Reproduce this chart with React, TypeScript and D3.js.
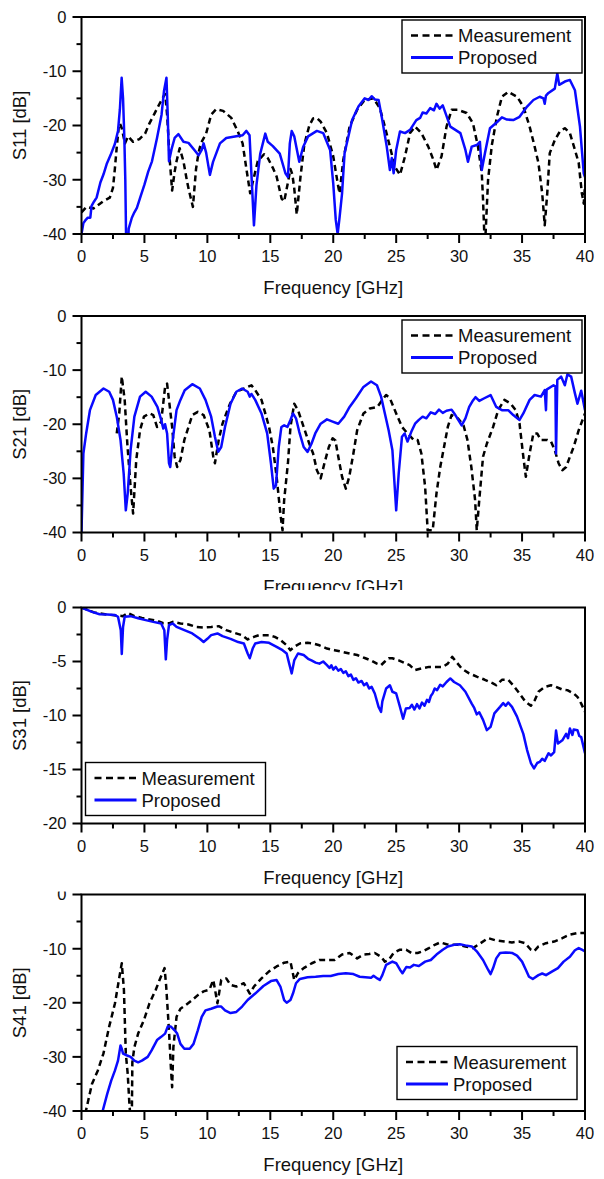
import React from "react";
import * as d3 from "d3";

type Pt = [number, number];

// ---------- data (frequency GHz, dB) ----------
const xTicks = [0, 5, 10, 15, 20, 25, 30, 35, 40];
const xMinorTicks = [2.5, 7.5, 12.5, 17.5, 22.5, 27.5, 32.5, 37.5];
const yTicks40 = [0, -10, -20, -30, -40];
const yMinor40 = [-5, -15, -25, -35];
const yTicks20 = [0, -5, -10, -15, -20];
const yMinor20 = [-2.5, -7.5, -12.5, -17.5];
const seriesNames = ["Measurement", "Proposed"];
const yLabels = ["S11 [dB]", "S21 [dB]", "S31 [dB]", "S41 [dB]"];
const xLabel = "Frequency [GHz]";

const s11Meas: Pt[] = [[0,-36],[0.4,-35],[0.95,-35.3],[1.7,-34],[2.25,-33.3],[2.5,-31.5],[2.65,-28],[2.8,-24],[2.95,-20.5],[3.05,-19.6],[3.2,-20.5],[3.45,-23.3],[3.7,-22],[4.1,-23],[4.6,-22.5],[5.05,-21.5],[5.4,-19.6],[5.8,-17.8],[6.2,-16],[6.5,-14.7],[6.65,-14.2],[6.8,-18],[7.0,-26],[7.2,-32],[7.4,-28.5],[7.55,-26.6],[7.8,-24.2],[8.1,-26.6],[8.4,-30.5],[8.6,-32.6],[8.85,-35],[9.1,-28],[9.3,-25],[9.5,-23.2],[9.9,-21.5],[10.3,-18],[10.7,-17],[11.25,-17.3],[11.9,-18.6],[12.4,-21],[12.8,-23.3],[13.1,-28],[13.4,-32.5],[13.6,-30.5],[14.0,-26.6],[14.5,-25.3],[14.8,-26],[15.2,-27.8],[15.5,-29.4],[15.9,-33.5],[16.1,-34],[16.4,-30.5],[16.6,-28],[16.75,-29],[16.9,-31.6],[17.1,-36.4],[17.4,-29.4],[17.7,-23.5],[18.1,-20],[18.4,-18.7],[18.7,-18.6],[19.0,-19.3],[19.5,-21.4],[20.0,-25.7],[20.4,-31.3],[20.5,-32.5],[20.8,-26.3],[21.3,-20.2],[21.9,-17.1],[22.5,-15.3],[23.2,-15],[23.7,-16.8],[24.1,-20.2],[24.5,-23.9],[24.9,-27.6],[25.3,-29.1],[25.7,-25.7],[26.1,-21.4],[26.5,-20.2],[27.0,-21.4],[27.55,-23.9],[27.95,-26.3],[28.2,-28.2],[28.6,-25.7],[29.0,-20.2],[29.4,-17.1],[29.9,-17.1],[30.6,-17.7],[31.1,-19.6],[31.5,-23.9],[31.8,-28.8],[31.9,-33.7],[32.0,-40],[32.1,-40],[32.3,-30],[32.6,-23.6],[33.0,-18.4],[33.4,-14.7],[33.9,-13.8],[34.6,-14.7],[35.1,-16.5],[35.6,-20.2],[36.0,-23.9],[36.3,-26.9],[36.6,-32.5],[36.8,-38.4],[37.0,-32.5],[37.2,-25.1],[37.6,-22.7],[38.0,-21.1],[38.4,-20.5],[38.8,-21.4],[39.2,-24.5],[39.5,-26.9],[39.75,-32.5],[39.9,-34.4],[40,-31]];

const s11Prop: Pt[] = [[0,-40],[0.15,-38],[0.3,-37.5],[0.5,-37],[0.7,-37],[0.8,-34.8],[1.0,-34],[1.2,-33.3],[1.5,-30.5],[1.75,-29],[2.0,-27.1],[2.3,-25.5],[2.65,-23.4],[2.9,-21],[3.05,-17],[3.19,-11.2],[3.3,-15],[3.4,-22],[3.48,-30],[3.55,-42],[3.7,-42],[3.75,-39],[4.0,-37],[4.2,-36],[4.4,-35.2],[4.7,-33],[5.0,-30.9],[5.3,-28.5],[5.6,-26.6],[6.0,-22.3],[6.36,-18],[6.55,-13.7],[6.75,-11.2],[6.85,-18],[6.95,-26.6],[7.15,-24.4],[7.4,-22.3],[7.7,-21.6],[8.1,-23],[8.5,-23.2],[9.0,-24.6],[9.3,-25.5],[9.55,-24.5],[9.7,-23.3],[9.9,-25],[10.2,-29.1],[10.45,-26.7],[11.0,-23.3],[11.5,-22.3],[12.3,-22],[12.8,-21.8],[13.1,-21],[13.35,-21.8],[13.5,-29],[13.7,-38.4],[13.9,-31],[14.2,-25.2],[14.6,-21.5],[14.8,-23],[15.2,-23.8],[15.75,-25.2],[16.2,-28.8],[16.4,-29.5],[16.55,-23.3],[16.7,-21],[16.9,-22],[17.3,-26.7],[17.6,-24],[18.0,-22],[18.7,-21],[19.2,-21.4],[19.75,-24.5],[20.0,-30.7],[20.2,-37.4],[20.35,-40],[20.5,-37],[20.7,-32.5],[20.9,-25.1],[21.5,-19],[22.0,-16.5],[22.5,-15],[22.8,-15.3],[23.05,-14.6],[23.3,-15.2],[23.6,-15.3],[23.85,-18.4],[24.25,-23.9],[24.5,-28.2],[24.65,-26],[24.8,-28.8],[25.0,-24.5],[25.3,-21.1],[25.7,-21.4],[26.1,-20.8],[26.6,-19],[26.9,-18.6],[27.1,-17.6],[27.4,-17.8],[27.7,-16.8],[28.0,-17.2],[28.2,-16.0],[28.45,-16.9],[28.7,-16.3],[29.3,-20.2],[30.1,-21.4],[30.5,-24.5],[30.7,-26.7],[31.0,-23.9],[31.4,-23.6],[31.65,-23],[31.8,-28.2],[32.05,-25.1],[32.45,-20.5],[33.0,-19.4],[33.4,-18.5],[33.8,-18.9],[34.3,-19],[34.8,-18.4],[35.4,-16.5],[35.9,-15.3],[36.4,-14.7],[36.7,-15],[36.8,-16],[36.9,-14.5],[37.1,-14],[37.6,-13.2],[37.8,-10.4],[37.95,-12.5],[38.4,-11.9],[38.8,-11.6],[39.2,-13.5],[39.6,-20.2],[39.9,-28.8],[40,-29.5]];

const s21Meas: Pt[] = [[2.8,-21.7],[3.0,-18],[3.2,-11.2],[3.43,-15.5],[3.64,-23.6],[3.9,-31.6],[4.1,-36.5],[4.35,-26.6],[4.65,-21.1],[4.96,-18.6],[5.4,-18],[5.7,-18.3],[6.0,-20.5],[6.33,-19.5],[6.64,-13.1],[6.8,-12.5],[6.95,-15.5],[7.2,-20.5],[7.4,-26],[7.6,-27.9],[7.86,-26.6],[8.17,-22.9],[8.5,-20.5],[8.8,-18.3],[9.24,-17.7],[9.7,-18.3],[10.16,-21.1],[10.47,-26],[10.6,-27.2],[10.9,-22.9],[11.2,-19.9],[11.5,-18],[11.8,-16.2],[12.3,-14],[12.9,-13.4],[13.5,-12.8],[13.8,-13.7],[14.3,-15.5],[14.6,-18],[14.9,-20.5],[15.2,-24.2],[15.5,-29.7],[15.8,-36.5],[15.97,-39.6],[16.1,-34],[16.4,-27.2],[16.6,-20.5],[16.9,-16.2],[17.2,-17.4],[17.65,-20.5],[18.1,-23.6],[18.4,-25.4],[18.7,-28.5],[19.0,-30],[19.3,-27.2],[19.65,-24.2],[19.95,-22.6],[20.17,-23],[20.4,-26],[20.7,-29.7],[21.0,-31.9],[21.27,-29.7],[21.6,-25.4],[21.9,-21.1],[22.4,-18],[22.9,-17.1],[23.5,-16.8],[23.9,-15.5],[24.2,-14.6],[24.5,-15.2],[25.0,-18],[25.46,-20.5],[25.9,-21.7],[26.4,-22.9],[26.7,-22.9],[27.0,-25.4],[27.3,-31.6],[27.5,-39.6],[27.9,-39.6],[28.2,-32.8],[28.5,-27.9],[28.8,-24.2],[29.1,-20.5],[29.4,-18.3],[29.9,-18.9],[30.35,-20.2],[30.66,-22.9],[30.97,-27.9],[31.27,-34],[31.4,-39.6],[31.6,-34],[31.9,-26],[32.2,-23.6],[32.7,-20.5],[33.1,-17.4],[33.6,-15.5],[34.1,-16.2],[34.5,-17.4],[34.8,-19.9],[35.1,-26],[35.3,-29.7],[35.6,-25.4],[35.9,-21.7],[36.2,-21.7],[36.5,-22.9],[37.0,-22.9],[37.3,-23.2],[37.6,-24.8],[37.9,-27.2],[38.2,-28.5],[38.5,-27.9],[38.8,-26],[39.1,-24.2],[39.5,-21.1],[40,-18]];

const s21Prop: Pt[] = [[0,-40],[0.15,-25.4],[0.37,-21.7],[0.67,-17.4],[1.13,-14.6],[1.75,-13.4],[2.2,-14],[2.5,-15.5],[2.8,-18.6],[3.1,-22.9],[3.35,-29.1],[3.52,-35.9],[3.67,-32.8],[3.9,-24.8],[4.2,-18.6],[4.65,-14.9],[5.1,-14],[5.57,-14.9],[6.03,-16.8],[6.33,-19.2],[6.5,-20.8],[6.64,-20],[6.8,-21.7],[6.95,-27.2],[7.05,-27.9],[7.25,-22.9],[7.55,-17.4],[7.86,-15.5],[8.2,-13.7],[8.8,-12.6],[9.4,-13.4],[9.85,-15.5],[10.3,-18.6],[10.6,-22.3],[10.86,-25.1],[11.1,-24.2],[11.4,-20.5],[11.84,-16.2],[12.3,-14],[12.76,-13.4],[13.2,-14],[13.37,-14.9],[13.5,-14.4],[13.8,-15.5],[14.3,-18],[14.75,-21.7],[15.05,-27.2],[15.27,-31.9],[15.45,-31.3],[15.67,-24.2],[15.88,-20.5],[16.1,-20.2],[16.36,-20.5],[16.6,-19.2],[16.8,-18],[17.04,-18.9],[17.3,-21.4],[17.65,-24.2],[17.96,-25.1],[18.27,-23.6],[18.57,-21.7],[19.0,-19.9],[19.5,-19.1],[19.95,-19.5],[20.4,-19.9],[20.87,-18.6],[21.3,-16.8],[21.8,-15.2],[22.4,-13.1],[23.0,-12.1],[23.47,-12.8],[23.8,-14.9],[24.1,-18],[24.4,-21.1],[24.7,-24.8],[25.0,-35.9],[25.2,-29.1],[25.46,-22.3],[25.67,-21.7],[25.9,-23.2],[26.2,-21.4],[26.5,-19.9],[26.8,-19.2],[27.1,-18.6],[27.4,-18.9],[27.75,-17.8],[28.1,-18.1],[28.4,-17.3],[28.7,-17.9],[29.0,-17.5],[29.4,-17.3],[29.7,-18.3],[30.2,-20.2],[30.5,-18.9],[30.8,-16.8],[31.1,-15.6],[31.3,-15.0],[31.6,-15.7],[32.0,-15.2],[32.5,-14.6],[32.95,-16.8],[33.4,-17.4],[33.9,-17.4],[34.3,-18.3],[34.8,-19.2],[35.1,-18],[35.6,-15.5],[36.0,-14.6],[36.5,-14.9],[36.8,-13.7],[36.9,-17.4],[36.95,-13.6],[37.5,-12.8],[37.65,-13],[37.7,-25.4],[37.8,-11.8],[38.1,-11.2],[38.4,-12.8],[38.6,-10.8],[38.9,-11.2],[39.2,-14.3],[39.4,-16.2],[39.7,-13.8],[40,-17.4]];

const s31Meas: Pt[] = [[0,0],[1,-0.45],[2,-0.65],[2.9,-0.75],[3.3,-0.8],[3.7,-0.5],[4.2,-0.8],[4.8,-0.96],[5.4,-1.1],[6.0,-1.23],[6.5,-1.45],[7.0,-1.45],[7.25,-1.33],[7.86,-1.48],[8.5,-1.57],[9.1,-1.8],[9.7,-1.85],[10.3,-1.8],[10.9,-1.73],[11.5,-2.1],[12.15,-2.35],[12.76,-2.56],[13.2,-2.96],[13.7,-2.72],[14.1,-2.56],[14.9,-2.56],[15.36,-2.72],[15.8,-3.0],[16.3,-3.5],[16.6,-3.95],[16.9,-3.64],[17.35,-3.33],[17.96,-3.27],[18.4,-3.33],[18.9,-3.5],[19.5,-3.8],[20.1,-3.95],[20.7,-4.1],[21.3,-4.26],[21.9,-4.4],[22.55,-4.7],[23.0,-4.9],[23.47,-5.2],[23.8,-5.34],[24.1,-5.0],[24.4,-4.7],[24.7,-4.7],[25.2,-4.9],[25.6,-5.1],[26.07,-5.34],[26.5,-5.8],[27.0,-5.65],[27.6,-5.5],[28.06,-5.5],[28.7,-5.5],[29.1,-5.2],[29.45,-4.57],[29.75,-5.0],[30.2,-5.65],[30.8,-6.1],[31.4,-6.4],[32.0,-6.67],[32.65,-7.0],[32.95,-7.2],[33.4,-6.7],[33.9,-6.7],[34.3,-7.2],[34.8,-7.96],[35.25,-8.7],[35.7,-9.1],[36.0,-8.6],[36.3,-7.8],[36.8,-7.35],[37.3,-7.2],[37.7,-7.35],[38.2,-7.6],[38.6,-7.65],[39.1,-7.96],[39.4,-8.27],[39.7,-8.9],[40,-9.66]];

const s31Prop: Pt[] = [[0,0],[0.83,-0.4],[1.44,-0.62],[2.05,-0.65],[2.66,-0.7],[2.9,-0.86],[3.12,-2.1],[3.2,-4.3],[3.3,-1.8],[3.43,-0.86],[3.9,-0.8],[4.5,-1.0],[5.1,-1.17],[5.7,-1.33],[6.33,-1.48],[6.58,-2.1],[6.7,-4.8],[6.8,-3],[6.95,-1.64],[7.25,-1.48],[7.55,-1.8],[8.17,-2.1],[8.8,-2.4],[9.4,-2.9],[9.7,-3.2],[10.0,-2.9],[10.3,-2.56],[10.8,-2.4],[11.2,-2.65],[11.84,-2.9],[12.45,-3.2],[12.9,-3.33],[13.2,-4.26],[13.37,-4.7],[13.6,-3.8],[13.8,-3.33],[14.3,-3.2],[14.9,-3.27],[15.5,-3.64],[15.97,-3.95],[16.3,-4.26],[16.5,-5.2],[16.7,-6.1],[16.9,-4.9],[17.2,-4.26],[17.65,-4.4],[18.0,-4.75],[18.27,-4.9],[18.6,-5.1],[18.9,-5.2],[19.2,-5.0],[19.5,-5.34],[19.7,-5.6],[19.85,-5.35],[20.0,-5.75],[20.2,-5.5],[20.4,-5.85],[20.6,-5.7],[20.8,-6.05],[21.0,-5.9],[21.2,-6.35],[21.4,-6.2],[21.6,-6.7],[21.8,-6.55],[22.0,-6.95],[22.25,-6.8],[22.45,-7.2],[22.65,-7.0],[22.85,-7.5],[23.05,-7.35],[23.3,-7.96],[23.6,-9.2],[23.8,-9.66],[23.9,-8.7],[24.2,-7.5],[24.5,-7.2],[24.7,-7.8],[25.0,-7.96],[25.3,-9.2],[25.55,-10.3],[25.77,-9.35],[26.07,-9.3],[26.25,-9.0],[26.45,-9.45],[26.65,-8.95],[26.85,-9.35],[27.05,-8.8],[27.25,-9.1],[27.45,-8.55],[27.6,-8.75],[27.75,-8.2],[27.9,-7.95],[28.06,-7.5],[28.25,-7.65],[28.5,-7.15],[28.7,-7.3],[29.0,-6.9],[29.3,-6.57],[29.6,-6.9],[30.06,-7.2],[30.5,-7.8],[31.0,-8.9],[31.2,-9.3],[31.4,-9.9],[31.6,-9.7],[31.9,-10.4],[32.2,-11.36],[32.5,-11.05],[32.8,-9.8],[33.25,-9.2],[33.5,-8.85],[33.7,-9.1],[33.9,-8.8],[34.2,-9.2],[34.6,-10.1],[35.1,-11.7],[35.4,-13.2],[35.7,-14.4],[35.95,-14.9],[36.2,-14.4],[36.4,-14.3],[36.6,-14.0],[36.8,-14.2],[37.1,-13.5],[37.3,-13.7],[37.55,-13.4],[37.7,-11.4],[37.85,-12.6],[38.2,-12.3],[38.5,-11.7],[38.65,-12.1],[38.8,-11.2],[39.0,-11.8],[39.1,-11.3],[39.4,-11.36],[39.55,-11.9],[39.7,-12],[40,-13.5]];

const s41Meas: Pt[] = [[0.3,-40.5],[0.83,-35],[1.3,-32.5],[1.74,-29.4],[2.2,-24.4],[2.66,-20.1],[2.97,-15.8],[3.2,-12.7],[3.37,-17.6],[3.52,-29.4],[3.67,-33.1],[3.82,-39.3],[3.9,-41],[4.0,-41],[4.04,-31],[4.2,-28.2],[4.5,-25.7],[4.96,-23.2],[5.4,-20.1],[5.9,-17.6],[6.2,-15.8],[6.6,-13.6],[6.73,-17],[6.95,-25.1],[7.1,-31.9],[7.2,-35.6],[7.3,-28.2],[7.55,-22.6],[7.86,-21.1],[8.3,-20.4],[8.8,-19.5],[9.24,-18.6],[9.7,-17.9],[10.16,-17.6],[10.47,-15.8],[10.8,-20.1],[11.1,-15.8],[11.5,-15.5],[11.84,-16.7],[12.3,-17],[12.9,-16.4],[13.37,-18.3],[13.7,-17],[14.3,-15.5],[14.9,-14.2],[15.5,-13.3],[16.1,-12.6],[16.6,-12.4],[16.9,-15.8],[17.2,-14.5],[17.65,-13.6],[18.3,-12.7],[18.9,-12.1],[19.5,-12.1],[20.1,-12.1],[20.7,-11.1],[21.3,-10.8],[21.9,-11.8],[22.4,-11.1],[22.85,-11],[23.3,-10.8],[23.8,-11.5],[24.1,-12.4],[24.4,-12.1],[24.8,-10.8],[25.3,-10.2],[25.8,-10.2],[26.2,-10.8],[26.7,-10.8],[27.1,-10.5],[27.6,-9.9],[28.06,-9.3],[28.5,-8.85],[29.0,-9.2],[29.4,-9.3],[29.9,-9.3],[30.5,-9.6],[31.1,-9.9],[31.7,-9.0],[32.3,-8.05],[32.95,-8.5],[33.6,-8.7],[34.2,-8.85],[34.8,-8.7],[35.25,-9.0],[35.7,-10.2],[35.95,-10.5],[36.3,-9.6],[36.9,-9.0],[37.55,-8.7],[38.2,-8.05],[38.8,-7.4],[39.4,-7.1],[40,-7.1]];

const s41Prop: Pt[] = [[1.68,-40],[2.05,-36.8],[2.36,-34.4],[2.66,-32.5],[2.9,-30.7],[3.1,-27.9],[3.2,-28.5],[3.3,-29.4],[3.58,-29.7],[3.9,-30],[4.2,-30.7],[4.5,-31],[4.8,-30.7],[5.26,-30],[5.57,-28.8],[6.0,-26.9],[6.33,-26.3],[6.64,-25.7],[6.85,-24.4],[7.1,-24.4],[7.4,-25.1],[7.6,-25.7],[7.86,-27.6],[8.17,-28.5],[8.6,-28.5],[8.9,-27.6],[9.24,-25.1],[9.55,-22.6],[9.85,-21.4],[10.3,-21.1],[10.8,-20.7],[11.1,-20.7],[11.4,-21.4],[11.84,-21.9],[12.3,-21.7],[12.76,-20.7],[13.2,-19.5],[13.8,-18.3],[14.45,-16.9],[15.05,-16],[15.5,-15.8],[15.8,-17],[16.1,-19.5],[16.3,-20],[16.6,-19.5],[16.8,-18.3],[17.04,-16.4],[17.35,-15.6],[17.96,-15.3],[18.6,-15.2],[19.2,-15.05],[19.8,-15.05],[20.4,-14.7],[21.0,-14.55],[21.6,-14.7],[22.1,-15.2],[22.55,-15.3],[23.0,-15.4],[23.2,-15.0],[23.5,-15.5],[23.7,-15.8],[23.9,-14.9],[24.2,-13],[24.7,-12.4],[25.0,-12.7],[25.3,-13.9],[25.5,-14.55],[25.8,-13.4],[26.1,-13.5],[26.4,-13.0],[26.8,-13.2],[27.3,-12.4],[27.75,-12.1],[28.2,-11.1],[28.7,-10.2],[29.1,-9.6],[29.6,-9.3],[30.06,-9.2],[30.5,-9.4],[31.0,-9.6],[31.4,-10.5],[31.9,-12.1],[32.3,-13.9],[32.5,-14.7],[32.7,-13.6],[32.95,-11.8],[33.25,-10.8],[33.7,-10.7],[34.2,-10.8],[34.6,-11.3],[35.0,-12.4],[35.3,-13.9],[35.55,-15.2],[35.85,-15.6],[36.3,-14.9],[36.6,-14.6],[36.9,-14.9],[37.4,-14.2],[37.85,-13.6],[38.3,-12.4],[38.8,-11.5],[39.2,-10.3],[39.5,-9.9],[39.75,-10.2],[40,-10.5]];

// ---------- layout ----------
const FONT = "'Liberation Sans', Arial, Helvetica, sans-serif";
const X0 = 81.5;
const X1 = 585;
const BLUE = "#0a0aff";

interface PanelCfg {
  top: number;
  bottom: number;
  yMin: number;
  yTicks: number[];
  yMinor: number[];
  meas: Pt[];
  prop: Pt[];
  label: string;
  legendX: number;
  legendY: number;
  clipY0: number;
  clipY1: number;
}

const panels: PanelCfg[] = [
  { top: 17, bottom: 234, yMin: -40, yTicks: yTicks40, yMinor: yMinor40, meas: s11Meas, prop: s11Prop, label: yLabels[0], legendX: 402, legendY: 20, clipY0: 0, clipY1: 300 },
  { top: 316, bottom: 532.5, yMin: -40, yTicks: yTicks40, yMinor: yMinor40, meas: s21Meas, prop: s21Prop, label: yLabels[1], legendX: 402, legendY: 320, clipY0: 300, clipY1: 590 },
  { top: 607.5, bottom: 823.5, yMin: -20, yTicks: yTicks20, yMinor: yMinor20, meas: s31Meas, prop: s31Prop, label: yLabels[2], legendX: 85.5, legendY: 762.5, clipY0: 590, clipY1: 891.5 },
  { top: 894.5, bottom: 1111, yMin: -40, yTicks: yTicks40, yMinor: yMinor40, meas: s41Meas, prop: s41Prop, label: yLabels[3], legendX: 397, legendY: 1046.5, clipY0: 891.5, clipY1: 1179 },
];

function Panel({ cfg, idx }: { cfg: PanelCfg; idx: number }) {
  const x = d3.scaleLinear().domain([0, 40]).range([X0, X1]);
  const y = d3.scaleLinear().domain([cfg.yMin, 0]).range([cfg.bottom, cfg.top]);
  const line = d3
    .line<Pt>()
    .x((d) => x(d[0]))
    .y((d) => y(d[1]));
  const plotClip = `plot-${idx}`;
  const panelClip = `panel-${idx}`;
  const lx = cfg.legendX;
  const ly = cfg.legendY;
  const lw = 180;
  const lh = 53;
  return (
    <g clipPath={`url(#${panelClip})`}>
      <defs>
        <clipPath id={plotClip}>
          <rect x={X0} y={cfg.top} width={X1 - X0} height={cfg.bottom - cfg.top} />
        </clipPath>
        <clipPath id={panelClip}>
          <rect x={0} y={cfg.clipY0} width={604} height={cfg.clipY1 - cfg.clipY0} />
        </clipPath>
      </defs>
      <g clipPath={`url(#${plotClip})`}>
        <path d={line(cfg.meas) || ""} fill="none" stroke="#000" strokeWidth={2.5} strokeDasharray="6,4" strokeLinejoin="round" />
        <path d={line(cfg.prop) || ""} fill="none" stroke={BLUE} strokeWidth={2.5} strokeLinejoin="round" />
      </g>
      <rect x={X0} y={cfg.top} width={X1 - X0} height={cfg.bottom - cfg.top} fill="none" stroke="#000" strokeWidth={2} />
      {xTicks.map((t) => (
        <g key={`xt${t}`}>
          <line x1={x(t)} x2={x(t)} y1={cfg.bottom} y2={cfg.bottom + 9} stroke="#000" strokeWidth={2} />
          <text x={x(t)} y={cfg.bottom + 28} textAnchor="middle" fontSize={16.5} fontFamily={FONT} fill="#111">
            {t}
          </text>
        </g>
      ))}
      {xMinorTicks.map((t) => (
        <line key={`xm${t}`} x1={x(t)} x2={x(t)} y1={cfg.bottom} y2={cfg.bottom + 5} stroke="#000" strokeWidth={2} />
      ))}
      {cfg.yTicks.map((t) => (
        <g key={`yt${t}`}>
          <line x1={X0 - 9} x2={X0} y1={y(t)} y2={y(t)} stroke="#000" strokeWidth={2} />
          <text x={X0 - 15} y={y(t) + 5.9} textAnchor="end" fontSize={16.5} fontFamily={FONT} fill="#111">
            {t}
          </text>
        </g>
      ))}
      {cfg.yMinor.map((t) => (
        <line key={`ym${t}`} x1={X0 - 5} x2={X0} y1={y(t)} y2={y(t)} stroke="#000" strokeWidth={2} />
      ))}
      <text x={(X0 + X1) / 2} y={cfg.bottom + 60} textAnchor="middle" fontSize={18.5} fontFamily={FONT} fill="#111">
        {xLabel}
      </text>
      <text
        transform={`translate(26,${(cfg.top + cfg.bottom) / 2}) rotate(-90)`}
        textAnchor="middle"
        fontSize={18.5}
        fontFamily={FONT}
        fill="#111"
      >
        {cfg.label}
      </text>
      <rect x={lx} y={ly} width={lw} height={lh} fill="#fff" stroke="#000" strokeWidth={1.4} />
      <line x1={lx + 9} x2={lx + 51} y1={ly + 15.5} y2={ly + 15.5} stroke="#000" strokeWidth={2.5} strokeDasharray="7,4.5" />
      <line x1={lx + 9} x2={lx + 51} y1={ly + 37.5} y2={ly + 37.5} stroke={BLUE} strokeWidth={2.8} />
      <text x={lx + 56} y={ly + 15.5 + 6.6} fontSize={18.5} fontFamily={FONT} fill="#111">
        {seriesNames[0]}
      </text>
      <text x={lx + 56} y={ly + 37.5 + 6.6} fontSize={18.5} fontFamily={FONT} fill="#111">
        {seriesNames[1]}
      </text>
    </g>
  );
}

export default function App() {
  return (
    <svg
      width={604}
      height={1179}
      viewBox="0 0 604 1179"
      style={{ position: "absolute", left: 0, top: 0, background: "#fff" }}
    >
      <rect x={0} y={0} width={604} height={1179} fill="#fff" />
      {panels.map((p, i) => (
        <Panel key={i} cfg={p} idx={i} />
      ))}
    </svg>
  );
}
